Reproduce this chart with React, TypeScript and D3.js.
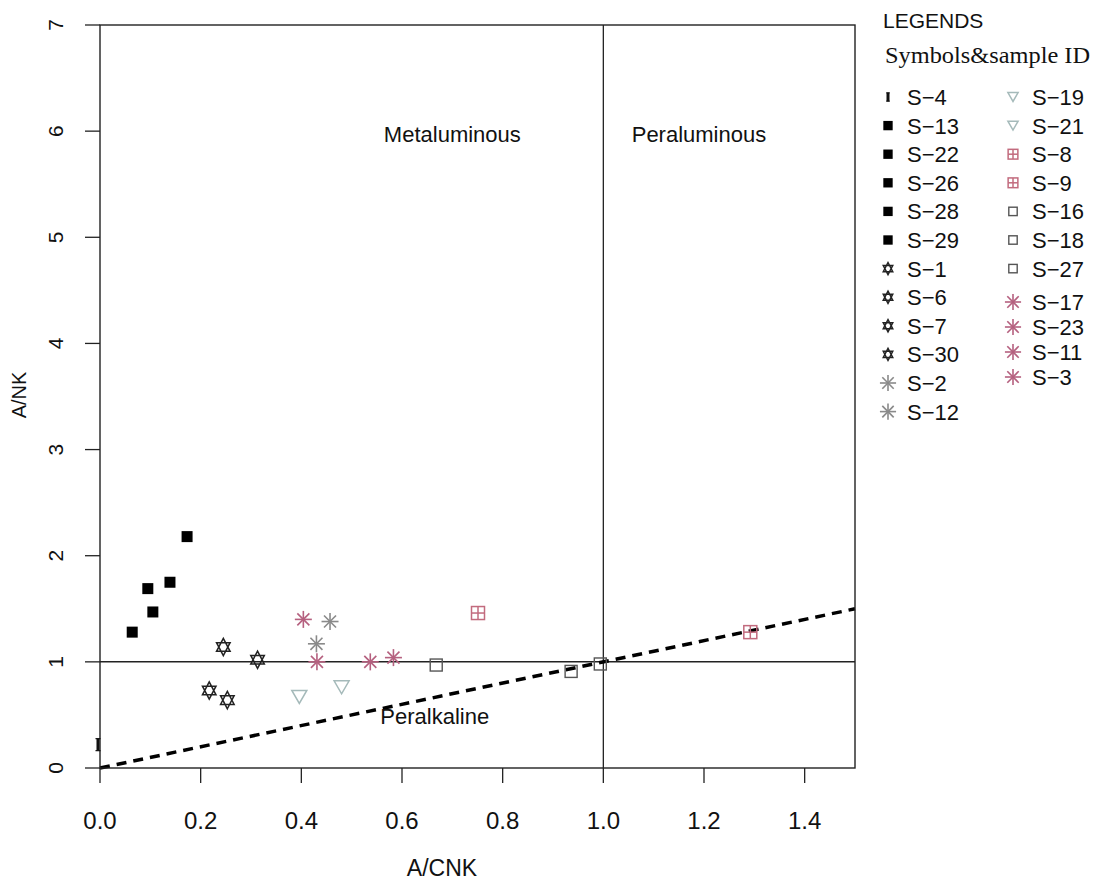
import React from "react";
import * as d3 from "d3";

// ---- data ----
const sampleIds = ["S-4", "S-13", "S-22", "S-26", "S-28", "S-29", "S-1", "S-6", "S-7", "S-30", "S-2", "S-12",
  "S-19", "S-21", "S-8", "S-9", "S-16", "S-18", "S-27", "S-17", "S-23", "S-11", "S-3"];
const symbolGroup = ["bar", "fsq", "fsq", "fsq", "fsq", "fsq", "star", "star", "star", "star", "astGrey", "astGrey",
  "tri", "tri", "plusSq", "plusSq", "openSq", "openSq", "openSq", "astPink", "astPink", "astPink", "astPink"];
const acnkValues = [-0.004, 0.064, 0.105, 0.095, 0.139, 0.173, 0.245, 0.313, 0.217, 0.253, 0.457, 0.43,
  0.396, 0.48, 0.751, 1.292, 0.668, 0.936, 0.994, 0.404, 0.431, 0.537, 0.583];
const ankValues = [0.22, 1.28, 1.47, 1.69, 1.75, 2.18, 1.14, 1.02, 0.73, 0.64, 1.38, 1.17,
  0.67, 0.76, 1.46, 1.28, 0.97, 0.91, 0.98, 1.40, 1.0, 1.0, 1.04];
const legendCol1 = ["S-4", "S-13", "S-22", "S-26", "S-28", "S-29", "S-1", "S-6", "S-7", "S-30", "S-2", "S-12"];
const legendCol2a = ["S-19", "S-21", "S-8", "S-9", "S-16", "S-18", "S-27"];
const legendCol2b = ["S-17", "S-23", "S-11", "S-3"];
const xTicks = [0, 0.2, 0.4, 0.6, 0.8, 1.0, 1.2, 1.4];
const yTicks = [0, 1, 2, 3, 4, 5, 6, 7];
const regionLabels = [
  { text: "Metaluminous", x: 0.7, y: 5.9 },
  { text: "Peraluminous", x: 1.19, y: 5.9 },
  { text: "Peralkaline", x: 0.665, y: 0.41 },
];

const colors: Record<string, string> = {
  bar: "#111",
  fsq: "#000",
  star: "#222",
  astGrey: "#8a8a8a",
  astPink: "#b5607f",
  tri: "#a5baba",
  plusSq: "#c26b7e",
  openSq: "#555",
};

const SANS = "'Liberation Sans', Arial, sans-serif";
const SERIF = "'Liberation Serif', 'Times New Roman', serif";

function Symbol({ group, cx, cy, s }: { group: string; cx: number; cy: number; s: number }) {
  const c = colors[group];
  if (group === "bar") {
    const h = 12 * s;
    return (
      <g stroke={c} strokeWidth={1.2} fill="none">
        <line x1={cx} x2={cx} y1={cy - h / 2} y2={cy + h / 2} strokeWidth={3} />
        <line x1={cx - 2.5 * s} x2={cx + 2.5 * s} y1={cy - h / 2} y2={cy - h / 2} />
        <line x1={cx - 2.5 * s} x2={cx + 2.5 * s} y1={cy + h / 2} y2={cy + h / 2} />
      </g>
    );
  }
  if (group === "fsq") {
    const w = 11 * s;
    return <rect x={cx - w / 2} y={cy - w / 2} width={w} height={w} fill={c} />;
  }
  if (group === "openSq") {
    const w = 12 * s;
    return <rect x={cx - w / 2} y={cy - w / 2} width={w} height={w} fill="none" stroke={c} strokeWidth={1.4} />;
  }
  if (group === "plusSq") {
    const w = 13 * s;
    return (
      <g stroke={c} strokeWidth={1.5} fill="none">
        <rect x={cx - w / 2} y={cy - w / 2} width={w} height={w} />
        <line x1={cx - w / 2} x2={cx + w / 2} y1={cy} y2={cy} />
        <line x1={cx} x2={cx} y1={cy - w / 2} y2={cy + w / 2} />
      </g>
    );
  }
  if (group === "tri") {
    const w = 15 * s;
    const h = 13 * s;
    const p = d3.path();
    p.moveTo(cx - w / 2, cy - h / 2);
    p.lineTo(cx + w / 2, cy - h / 2);
    p.lineTo(cx, cy + h / 2);
    p.closePath();
    return <path d={p.toString()} fill="none" stroke={c} strokeWidth={1.5} />;
  }
  if (group === "star") {
    const r = 8.7 * s;
    const k = Math.sin(Math.PI / 3) * r * 0.9;
    const p = d3.path();
    p.moveTo(cx, cy - r);
    p.lineTo(cx + k, cy + r / 2);
    p.lineTo(cx - k, cy + r / 2);
    p.closePath();
    p.moveTo(cx, cy + r);
    p.lineTo(cx + k, cy - r / 2);
    p.lineTo(cx - k, cy - r / 2);
    p.closePath();
    return <path d={p.toString()} fill="none" stroke={c} strokeWidth={1.5} />;
  }
  // asterisk
  const r = 8.5 * s;
  const d = r * Math.SQRT1_2;
  return (
    <g stroke={c} strokeWidth={1.6}>
      <line x1={cx - r} x2={cx + r} y1={cy} y2={cy} />
      <line x1={cx} x2={cx} y1={cy - r} y2={cy + r} />
      <line x1={cx - d} x2={cx + d} y1={cy - d} y2={cy + d} />
      <line x1={cx - d} x2={cx + d} y1={cy + d} y2={cy - d} />
    </g>
  );
}

export default function App() {
  const W = 1097, H = 885;
  const x = d3.scaleLinear().domain([0, 1.5]).range([100, 855]);
  const y = d3.scaleLinear().domain([0, 7]).range([768, 25]);
  const groupOf = (id: string) => symbolGroup[sampleIds.indexOf(id)];
  const minus = (id: string) => id.replace("-", "\u2212");

  const legendSize: Record<string, number> = {
    bar: 0.7, fsq: 0.85, star: 0.7, astGrey: 0.95, astPink: 0.95, tri: 0.68, plusSq: 0.75, openSq: 0.7,
  };

  const rowH = 28.6;
  const legendRows: { id: string; sx: number; tx: number; cy: number }[] = [];
  legendCol1.forEach((id, i) => legendRows.push({ id, sx: 888, tx: 907, cy: 97 + i * rowH }));
  legendCol2a.forEach((id, i) => legendRows.push({ id, sx: 1013, tx: 1032, cy: 97 + i * rowH }));
  legendCol2b.forEach((id, i) => legendRows.push({ id, sx: 1013, tx: 1032, cy: 302 + i * 25 }));

  return (
    <svg width={W} height={H} style={{ position: "absolute", left: 0, top: 0, background: "#fff" }}>
      <rect width={W} height={H} fill="#fff" />
      {/* reference lines */}
      <line x1={x(1)} x2={x(1)} y1={y(7)} y2={y(0)} stroke="#222" strokeWidth={1.3} />
      <line x1={x(0)} x2={x(1.5)} y1={y(1)} y2={y(1)} stroke="#222" strokeWidth={1.5} />
      <line x1={x(0)} y1={y(0)} x2={x(1.5)} y2={y(1.5)} stroke="#000" strokeWidth={3.5} strokeDasharray="10,7" />
      {/* box */}
      <rect x={x(0)} y={y(7)} width={x(1.5) - x(0)} height={y(0) - y(7)} fill="none" stroke="#222" strokeWidth={1.4} />
      {/* x axis ticks */}
      {xTicks.map((t) => (
        <g key={"xt" + t}>
          <line x1={x(t)} x2={x(t)} y1={y(0)} y2={y(0) + 15} stroke="#222" strokeWidth={1.3} />
          <text x={x(t)} y={829} textAnchor="middle" fontFamily={SANS} fontSize={24} fill="#111">
            {d3.format(".1f")(t)}
          </text>
        </g>
      ))}
      {yTicks.map((t) => (
        <g key={"yt" + t}>
          <line x1={x(0) - 15} x2={x(0)} y1={y(t)} y2={y(t)} stroke="#222" strokeWidth={1.3} />
          <text transform={`translate(63,${y(t)}) rotate(-90)`} textAnchor="middle" fontFamily={SANS} fontSize={21} fill="#111">
            {String(t)}
          </text>
        </g>
      ))}
      <text x={442} y={876} textAnchor="middle" fontFamily={SANS} fontSize={23} fill="#111">A/CNK</text>
      <text transform={`translate(26,395) rotate(-90)`} textAnchor="middle" fontFamily={SANS} fontSize={20} fill="#111">A/NK</text>
      {regionLabels.map((r) => (
        <text key={r.text} x={x(r.x)} y={y(r.y)} textAnchor="middle" fontFamily={SANS} fontSize={22} fill="#111">
          {r.text}
        </text>
      ))}
      {/* points */}
      {sampleIds.map((id, i) => (
        <Symbol key={id} group={symbolGroup[i]} cx={x(acnkValues[i])} cy={y(ankValues[i])} s={1} />
      ))}
      {/* legend */}
      <text x={883} y={28} fontFamily={SANS} fontSize={21} fill="#111">LEGENDS</text>
      <text x={885} y={63} fontFamily={SERIF} fontSize={24} fill="#111" textLength={205} lengthAdjust="spacingAndGlyphs">
        Symbols&amp;sample ID
      </text>
      {legendRows.map((r) => (
        <g key={"lg" + r.id}>
          <Symbol group={groupOf(r.id)} cx={r.sx} cy={r.cy} s={legendSize[groupOf(r.id)]} />
          <text x={r.tx} y={r.cy + 8} fontFamily={SANS} fontSize={22} fill="#111">{minus(r.id)}</text>
        </g>
      ))}
    </svg>
  );
}
